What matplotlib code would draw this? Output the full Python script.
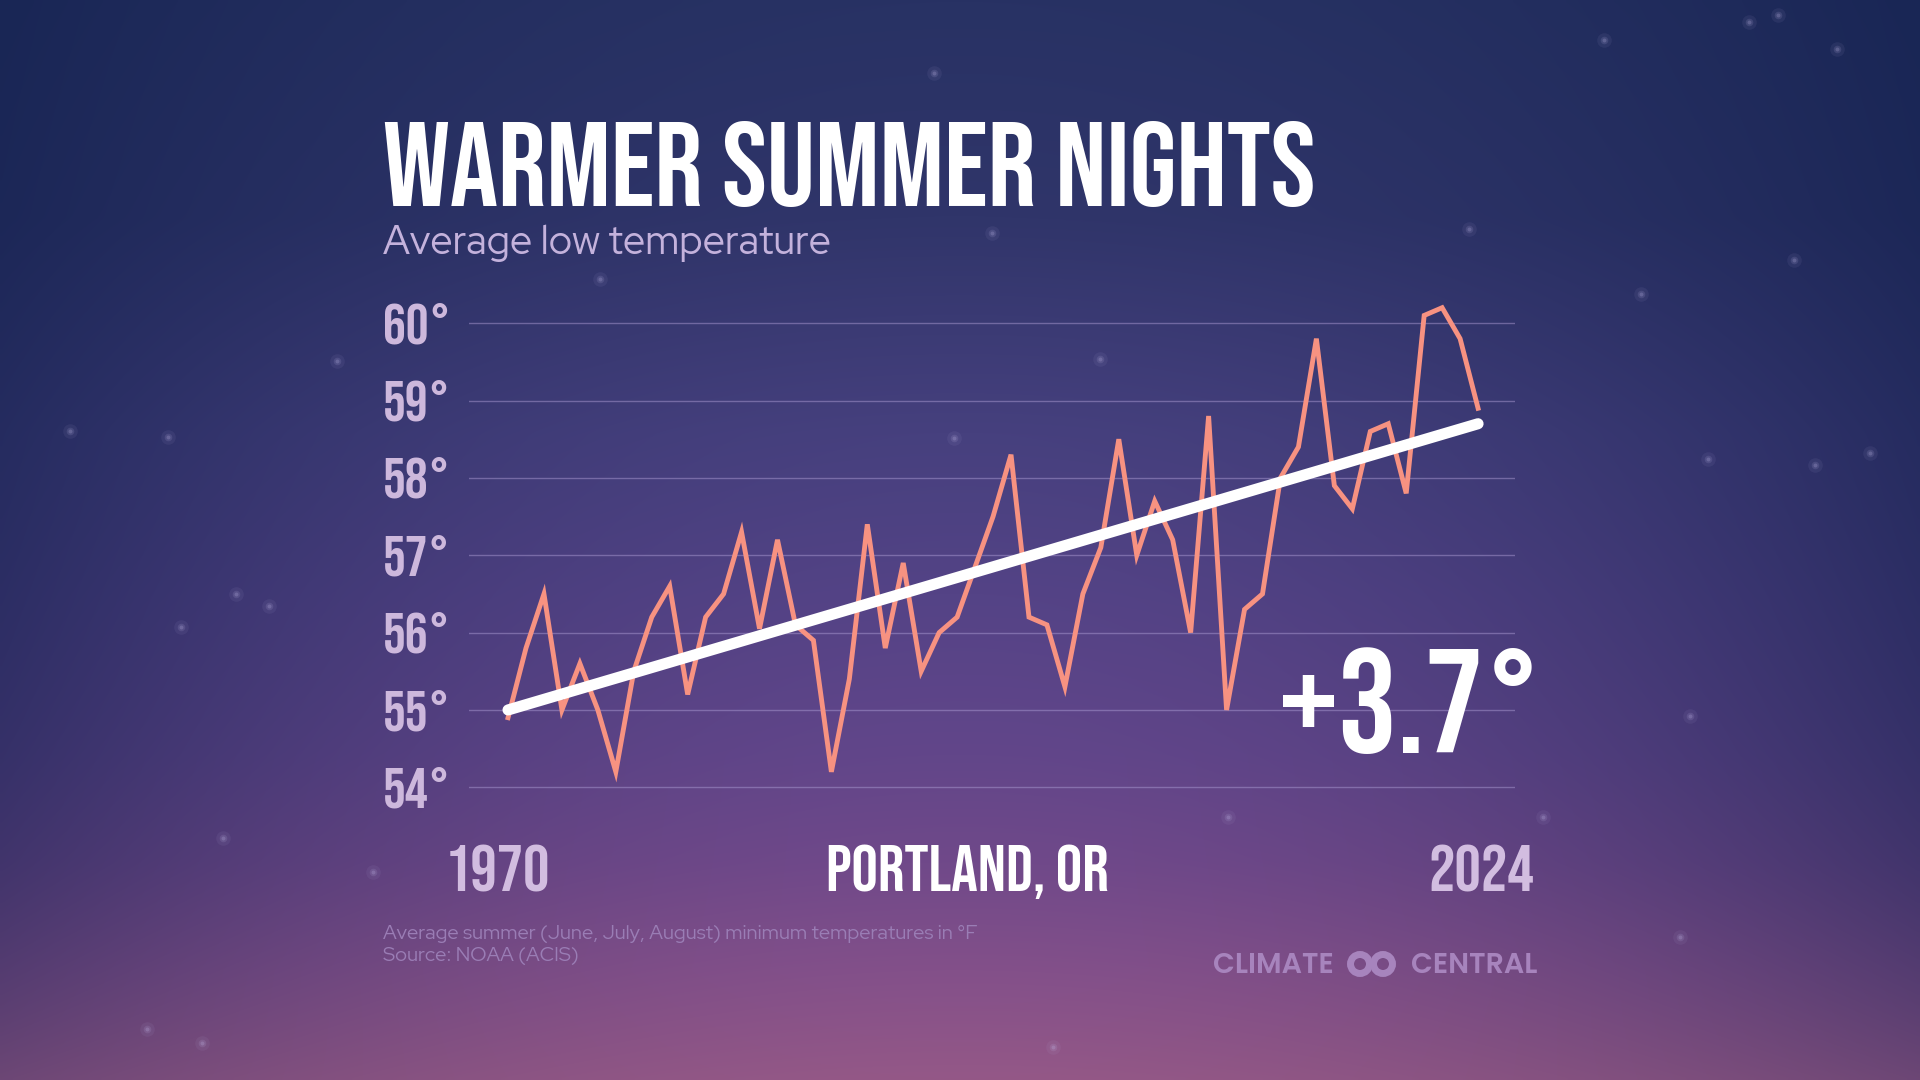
import numpy as np
import matplotlib
matplotlib.use("Agg")
import matplotlib.pyplot as plt
from matplotlib.patches import Circle

# summer average low temperature, Portland OR (deg F)
years = np.arange(1970, 2025)
avg_low = [54.9, 55.8, 56.5, 55.0, 55.6, 55.0, 54.2, 55.5, 56.2, 56.6,
           55.2, 56.2, 56.5, 57.3, 56.05, 57.2, 56.1, 55.9, 54.2, 55.4,
           57.4, 55.8, 56.9, 55.5, 56.0, 56.2, 56.85, 57.5, 58.3, 56.2,
           56.1, 55.3, 56.5, 57.1, 58.5, 57.0, 57.7, 57.2, 56.0, 58.8,
           55.0, 56.3, 56.5, 58.0, 58.4, 59.8, 57.9, 57.6, 58.6, 58.7,
           57.8, 60.1, 60.2, 59.8, 58.9]
trend_years = [1970, 2024]
trend_vals = [55.0, 58.7]
yticks = [54, 55, 56, 57, 58, 59, 60]
change_label = "+3.7°"

title = "WARMER SUMMER NIGHTS"
subtitle = "Average low temperature"
location = "PORTLAND, OR"
notes = ["Average summer (June, July, August) minimum temperatures in °F",
         "Source: NOAA (ACIS)"]

# background stars (pixel positions)
stars = [(1604, 40), (1778, 15), (1837, 49), (1749, 22), (934, 73), (1794, 260),
         (1641, 294), (1469, 229), (70, 431), (168, 437), (337, 361), (992, 233),
         (600, 279), (1708, 459), (1815, 465), (1870, 453), (1100, 359), (269, 606),
         (236, 594), (181, 627), (223, 838), (373, 872), (1228, 817), (1543, 817),
         (1680, 937), (147, 1029), (202, 1043), (1053, 1047), (1690, 716), (954, 438)]

BEBAS = "Bebas Neue"
REDHAT = "Red Hat Display"

fig = plt.figure(figsize=(19.2, 10.8), dpi=100)

# ---- background gradient ----
H, W = 270, 480
yy, xx = np.mgrid[0:1:H * 1j, 0:1:W * 1j]
stops_y = [0.0, 0.2, 0.4, 0.55, 0.7, 0.8, 0.9, 1.0]
stops_c = np.array([(40, 50, 100), (48, 53, 106), (70, 64, 126), (84, 67, 134),
                    (98, 70, 138), (112, 73, 138), (131, 80, 138), (148, 88, 135)]) / 255
center = np.stack([np.interp(yy, stops_y, stops_c[:, k]) for k in range(3)], axis=-1)
edge = np.array([15, 30, 75]) / 255
w = 0.6 * ((xx - 0.5) * 2) ** 2 * (1 - 0.5 * yy ** 4)
bg = center * (1 - w[..., None]) + edge * w[..., None]

ax_bg = fig.add_axes([0, 0, 1, 1], zorder=0)
ax_bg.imshow(bg, extent=(0, 1920, 1080, 0), aspect="auto", interpolation="bilinear")
ax_bg.set_xlim(0, 1920)
ax_bg.set_ylim(1080, 0)
ax_bg.axis("off")
sx, sy = zip(*stars)
ax_bg.scatter(sx, sy, s=110, color="#b8b0e0", alpha=0.08, linewidths=0)
ax_bg.scatter(sx, sy, s=30, color="#c0b8e8", alpha=0.14, linewidths=0)
ax_bg.scatter(sx, sy, s=8, color="#c8c0ee", alpha=0.22, linewidths=0)

# ---- chart ----
ax = fig.add_axes([0.2443, 0.2352, 0.5448, 0.5157], zorder=1)
ax.patch.set_alpha(0)
ax.set_xlim(1967.83, 2026.06)
ax.set_ylim(53.5, 60.7)
for v in yticks:
    ax.axhline(v, color="#a898d0", lw=1.0, alpha=0.5, zorder=1)
    ax.text(-0.0822, v - 0.26, f"{v}°", transform=ax.get_yaxis_transform(),
            ha="left", va="baseline", family=BEBAS, fontsize=41, color="#cdb8dc")
ax.plot(years, avg_low, color="#f79281", lw=3.5, solid_joinstyle="miter", zorder=3)
ax.plot(trend_years, trend_vals, color="white", lw=8, solid_capstyle="round", zorder=4)
ax.axis("off")

fig.text(1542 / 1920, 1 - 753 / 1080, change_label, ha="right", va="baseline",
         family=BEBAS, fontsize=106, color="white", zorder=5)

# ---- titles and labels ----
fig.text(383 / 1920, 1 - 206 / 1080, title, family=BEBAS, fontsize=86.5, color="white",
         ha="left", va="baseline")
fig.text(383 / 1920, 1 - 254 / 1080, subtitle, family=REDHAT, fontsize=28.5, color="#c4b2dc",
         ha="left", va="baseline")

fig.text(497 / 1920, 1 - 891 / 1080, str(years[0]), family=BEBAS, fontsize=47.5,
         color="#d2bde0", ha="center", va="baseline")
fig.text(1481 / 1920, 1 - 891 / 1080, str(years[-1]), family=BEBAS, fontsize=47.5,
         color="#d2bde0", ha="center", va="baseline")
fig.text(967 / 1920, 1 - 891 / 1080, location, family=BEBAS, fontsize=47.5,
         color="white", ha="center", va="baseline")

fig.text(383 / 1920, 1 - 939 / 1080, notes[0], family=REDHAT, fontsize=14.5,
         color="#9a7db5", ha="left", va="baseline")
fig.text(383 / 1920, 1 - 961 / 1080, notes[1], family=REDHAT, fontsize=14.5,
         color="#9a7db5", ha="left", va="baseline")

# ---- logo ----
logo_col = "#a784bd"
fig.text(1213 / 1920, 1 - 973 / 1080, "CLIMATE", family="Poppins", weight="semibold",
         fontsize=20.5, color=logo_col, ha="left", va="baseline")
fig.text(1537 / 1920, 1 - 973 / 1080, "CENTRAL", family="Poppins", weight="semibold",
         fontsize=20.5, color=logo_col, ha="right", va="baseline")
for cx in (1360, 1383):
    ax_bg.add_patch(Circle((cx, 964), 9.5, fill=False, lw=5, ec=logo_col, zorder=3))
ax_bg.add_patch(Circle((1371.5, 964), 4, color=logo_col, lw=0, zorder=3))

fig.savefig("out.png", dpi=100)
